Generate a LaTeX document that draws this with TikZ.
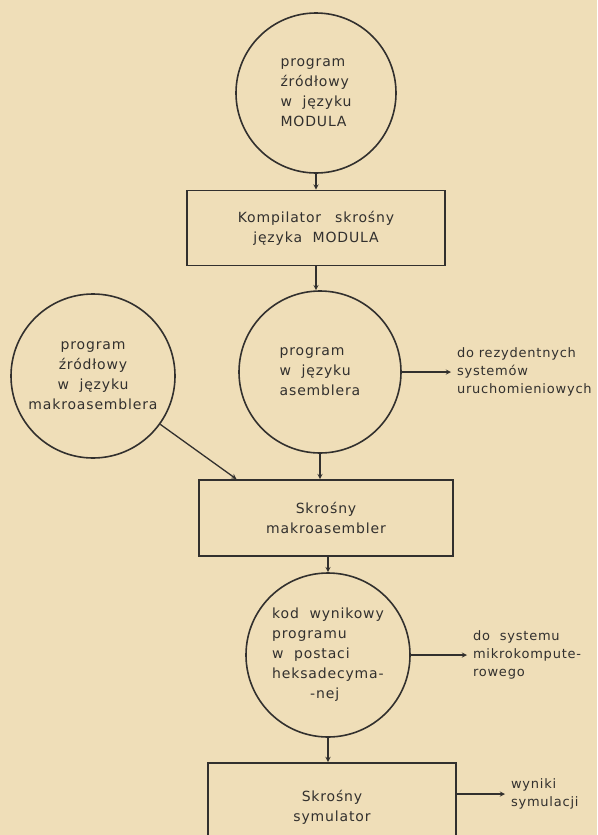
\documentclass[tikz,border=0pt]{standalone}
\usepackage{fontspec}
\setmainfont{DejaVu Sans}[LetterSpace=6]
\usepackage{tikz}
\usetikzlibrary{arrows,calc,positioning}
\definecolor{papier}{RGB}{239,222,184}
\definecolor{tusz}{RGB}{50,48,46}

\begin{document}
\begin{tikzpicture}[x=1pt, y=-1pt, >=stealth]
	\tikzstyle{every node} = [text = tusz, font = \fontsize{14}{20}\selectfont]
	\tikzstyle{kolo} = [circle, draw = tusz, line width = 1.6pt, inner sep = 0pt]
	\tikzstyle{blok} = [rectangle, draw = tusz, line width = 1.8pt, align = center]
	\tikzstyle{opis} = [anchor = west, align = left, inner sep = 0pt, outer sep = 6pt, font = \fontsize{13}{18}\selectfont]
\useasboundingbox (0,0) rectangle (597,835);
\fill[papier] (0,0) rectangle (597,835);
\clip (0,0) rectangle (597,835);
% kola i bloki
\node[kolo, minimum size = 160, align = left] (zrodlo) at (316,93) {program\\ źródłowy\\ w\ \ języku\\ MODULA};
\node[blok, minimum width = 258, minimum height = 75] (komp) at (316,228) {Kompilator\quad skrośny\\ języka\ \ MODULA};
\node[kolo, minimum size = 162, align = left] (asm) at (320,372) {program\\ w\ \ języku\\ asemblera};
\node[kolo, minimum size = 164, align = center] (makro) at (93,376) {program\\ źródłowy\\ w\ \ języku\\ makroasemblera};
\node[blok, minimum width = 254, minimum height = 76] (skasm) at (326,518) {Skrośny\\ makroasembler};
\node[kolo, minimum size = 164, align = left] (kod) at (328,655) {kod\ \ wynikowy\\ programu\\ w\ \ postaci\\ heksadecyma-\\ \hspace*{38pt}-nej};
\node[blok, minimum width = 248, minimum height = 88, anchor = north] (sym) at (332,762) {Skrośny\\ symulator};
% opisy z boku
\node[opis] (rez) at (451,372) {do rezydentnych\\ systemów\\ uruchomieniowych};
\node[opis] (mk) at (467,655) {do\ \ systemu\\ mikrokompute-\\ rowego};
\node[opis] (wyn) at (505,794) {wyniki\\ symulacji};
% strzalki
	\path[draw][->, line width = 1.3pt, draw = tusz] (zrodlo) -- (zrodlo |- komp.north);
	\path[draw][->, line width = 1.3pt, draw = tusz] (komp) -- (komp.south |- asm.north);
	\path[draw][->, line width = 1.3pt, draw = tusz] (asm) -- (asm |- skasm.north);
	\path[draw][->, line width = 1.3pt, draw = tusz] (makro) -- ($(skasm.north west)!0.15!(skasm.north east)$);
	\path[draw][->, line width = 1.3pt, draw = tusz] (skasm.south -| kod) -- (kod);
	\path[draw][->, line width = 1.3pt, draw = tusz] (kod) -- (kod |- sym.north);
	\path[draw][->, line width = 1.3pt, draw = tusz] (asm.east) -- (rez.west);
	\path[draw][->, line width = 1.3pt, draw = tusz] (kod.east) -- (mk.west);
	\path[draw][->, line width = 1.3pt, draw = tusz] (wyn -| sym.east) -- (wyn.west);
	\end{tikzpicture}
\end{document}
